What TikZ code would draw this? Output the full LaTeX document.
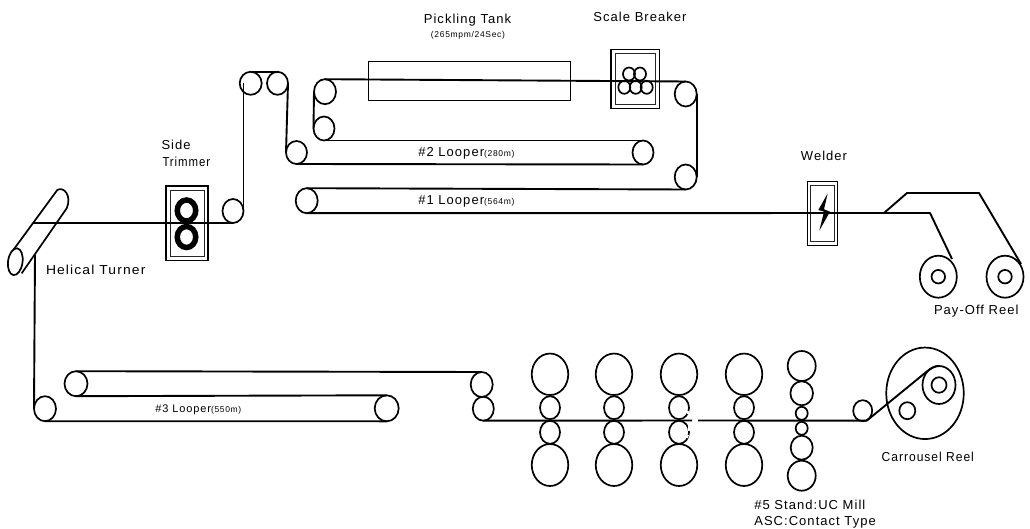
\documentclass[tikz,border=0pt]{standalone}
\usepackage{fontspec}
\setmainfont{Liberation Sans}
\newfontfamily\lblfont[LetterSpace=8]{Liberation Sans}
\usetikzlibrary{shapes.geometric}
\tikzset{
  roll/.style 2 args={draw=black,line width=1.7pt,ellipse,fill=none,inner sep=0pt,outer sep=0pt,minimum width=#1pt,minimum height=#2pt},
  ring/.style 2 args={draw=black,line width=5.5pt,ellipse,inner sep=0pt,outer sep=0pt,minimum width=#1pt,minimum height=#2pt},
  strip/.style={draw=black,line width=1.9pt,line join=round},
  frame/.style={draw=black,line width=1.5pt,rectangle,inner sep=0pt,outer sep=0pt},
  inner/.style={draw=black!85,line width=0.9pt,rectangle,inner sep=0pt,outer sep=0pt},
  lab/.style={inner sep=0pt,outer sep=0pt,anchor=west,font=\fontsize{13}{15}\lblfont,text=black},
  labc/.style={lab,anchor=center},
  wear/.style={draw=white,line width=2pt},
}
\newcommand{\smalltxt}[1]{{\fontsize{8.5}{9}\selectfont #1}}
\begin{document}
\begin{tikzpicture}[x=1pt,y=-1pt]
\useasboundingbox (0,0) rectangle (1030,529);
% --- frames
\node[frame,line width=1.3pt,minimum width=202.5pt,minimum height=38.5pt] (tank) at (469.5,81) {};
\node[frame,minimum width=48.5pt,minimum height=59pt] (breaker) at (635,78.8) {};
\node[inner,minimum width=40.5pt,minimum height=51pt] (breakerin) at (635.5,78.8) {};
\node[frame,minimum width=42pt,minimum height=74.5pt] (trimmer) at (187,223.4) {};
\node[inner,minimum width=34pt,minimum height=66pt] (trimmerin) at (187,223) {};
\node[frame,minimum width=30.4pt,minimum height=64pt] (welder) at (822.5,213.7) {};
\node[inner,minimum width=23.6pt,minimum height=56pt] (welderin) at (822.5,213.7) {};
% --- rollers, upper line
\node[roll={21}{24}] (ra) at (233,211) {};
\node[roll={22}{23}] (t1) at (250.7,83.3) {};
\node[roll={21}{23}] (t2) at (277.5,83.3) {};
\node[roll={21}{23}] (r3) at (296.5,152.5) {};
\node[roll={22}{25}] (r4) at (325,91.7) {};
\node[roll={21}{24}] (r5) at (324,128.5) {};
\node[roll={21}{24}] (r6) at (643,152.5) {};
\node[roll={22}{25}] (r7) at (685.7,94) {};
\node[roll={22}{25}] (r8) at (685.7,177) {};
\node[roll={22}{25}] (r9) at (306.7,200.7) {};
% scale breaker rollers
\foreach \n/\x/\y in {b1/629/74,b2/640/74,b3/624.3/87.3,b4/635.7/87.3,b5/646.7/87.3}
  \node[roll={12}{13}] (\n) at (\x,\y) {};
% side trimmer rolls
\node[ring={18.5}{21}] (s1) at (186.5,210.5) {};
\node[ring={18.5}{21}] (s2) at (186.5,237) {};
% pay-off reels
\node[roll={37}{42}] (p1) at (938.3,276.7) {};
\node[roll={13.5}{13.5}] (p1i) at (938.3,276.7) {};
\node[roll={37}{42}] (p2) at (1005,276.7) {};
\node[roll={13.5}{13.5}] (p2i) at (1005,276.7) {};
\coordinate (fork) at (884,213);
\coordinate (p1bend) at (930,213);
\coordinate (p2a) at (907,193);
\coordinate (p2b) at (979,193);
\coordinate (p1t) at (952,259);
\coordinate (p2t) at (1021,264);
% turner
\coordinate (turnin) at (33,223);
\coordinate (turnout) at (35,255);
\coordinate (tu) at (13.3,250);
\coordinate (tv) at (57.3,190);
\coordinate (tw) at (66.7,208.3);
\coordinate (tx) at (21.7,273.3);
\draw[strip,line width=1.7pt] (tu) -- (tv) .. controls (64,186) and (72,196) .. (tw) -- (tx);
\node[roll={14.5}{27},rotate=-8] (tend) at (15.3,261.7) {};
% --- rollers, lower line
\node[roll={22}{25}] (l1) at (45,408.7) {};
\node[roll={24}{26}] (l2) at (386.7,408.3) {};
\node[roll={23}{25}] (l3) at (76,383.7) {};
\node[roll={22}{25}] (l4) at (481.7,384.5) {};
\node[roll={21}{24}] (l5) at (483.3,408.7) {};
% mills
\foreach \k/\x in {a/550,b/614,c/679,d/744}{
  \node[roll={36.5}{41.5}] (\k1) at (\x,374.3) {};
  \node[roll={20}{23}] (\k2) at (\x,407.7) {};
  \node[roll={20}{23}] (\k3) at (\x,432.3) {};
  \node[roll={36.5}{42}] (\k4) at (\x,465) {};
}
\node[roll={28}{30}] (e1) at (801.7,366) {};
\node[roll={22.6}{24}] (e2) at (801.7,393.3) {};
\node[roll={12}{13}] (e3) at (801.7,413.3) {};
\node[roll={12}{13}] (e4) at (801.7,428.3) {};
\node[roll={22}{24}] (e5) at (801.7,447.7) {};
\node[roll={28}{30}] (e6) at (801.7,475.7) {};
\node[roll={19}{21}] (g1) at (862.7,410.7) {};
% carrousel
\node[roll={77.5}{91.5}] (c0) at (925,393.3) {};
\node[roll={33}{38}] (c1) at (939,385) {};
\node[roll={15}{15.5}] (c2) at (939,385) {};
\node[roll={16}{17}] (c3) at (907.3,410.7) {};
\coordinate (g1out) at (866.7,420.7);
\coordinate (c1t) at (925,373);
\coordinate (gapa) at (692,420.5);
\coordinate (gapb) at (698,420.5);
% --- strip connectors
\draw[strip] (turnin) -- (ra.south);
\draw[strip] (ra.east) -- (ra.east |- t1.center);
\draw[strip] (t1.north) -- (t2.north);
\draw[strip] (t2.east) -- (r3.west);
\draw[strip] (r3.south) -- (r6.south);
\draw[strip] (r6.north) -- (r5.south);
\draw[strip] (r5.west) -- (r4.west);
\draw[strip] (r4.north) -- (r7.north);
\draw[strip] (r7.east) -- (r8.east);
\draw[strip] (r8.south) -- (r9.north);
\draw[strip] (r9.south) -- (p1bend) -- (p1t);
\draw[strip] (fork) -- (p2a) -- (p2b) -- (p2t);
\draw[strip] (turnout) -- (l1.west);
\draw[strip] (l1.south) -- (l2.south);
\draw[strip] (l2.north) -- (l3.south);
\draw[strip] (l3.north) -- (l4.north);
\draw[strip] (l5.south) -- (gapa);
\draw[strip] (gapb) -- (g1out) -- (c1t) .. controls (930,368.5) and (936,365.5) .. (c1.north);
% worn print on the third stand
\draw[wear] (687.7,411) -- (688,414);
\draw[wear] (688.5,426) -- (688.5,431);
\draw[wear] (688,435) -- (687,438);
% welder spark
\fill[black] (827.7,193.3) -- (818.3,210) -- (824,211.7) -- (819.3,230.7) -- (830,211.7) -- (824,209.3) -- cycle;
% --- labels
\node[labc] (lpick) at (467.5,20.5) {Pickling Tank};
\node[labc,font=\fontsize{8.5}{9}\lblfont] (lpick2) at (468,35) {(265mpm/24Sec)};
\node[labc] (lscale) at (640,17) {Scale Breaker};
\node[lab] (lside) at (161.5,145) {Side};
\node[lab,xscale=.88] (ltrim) at (162.5,161.7) {Trimmer};
\node[labc] (lweld) at (824,155.7) {Welder};
\node[lab] (lpay) at (934,310.7) {Pay-Off Reel};
\node[lab,xscale=.93] (lcarr) at (881.7,456.7) {Carrousel Reel};
\node[lab] (lstand) at (754.3,505) {\#5 Stand:UC Mill};
\node[lab] (lasc) at (754.3,522) {ASC:Contact Type};
\node[lab,xscale=1.07] (lheli) at (46,270) {Helical Turner};
\node[lab] (lloop2) at (418.3,153) {\#2 Looper\smalltxt{(280m)}};
\node[lab] (lloop1) at (418.3,201.7) {\#1 Looper\smalltxt{(564m)}};
\node[lab,font=\fontsize{11}{12}\lblfont] (lloop3) at (155.3,409.3) {\#3 Looper\smalltxt{(550m)}};
\end{tikzpicture}
\end{document}
